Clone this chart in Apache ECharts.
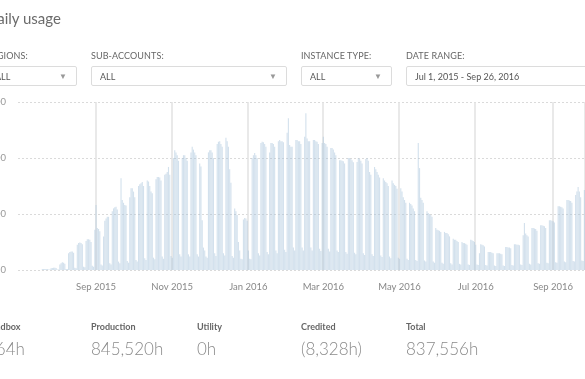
<!DOCTYPE html>
<html>
<head>
<meta charset="utf-8">
<script src="https://cdn.jsdelivr.net/npm/echarts@6/dist/echarts.min.js"></script>
<style>
  html, body { margin:0; padding:0; width:585px; height:379px; overflow:hidden; background:#fff; font-family: Lato, "Open Sans", sans-serif; }
  .abs { position:absolute; white-space:nowrap; }
  #chart { position:absolute; left:0; top:0; width:585px; height:379px; }
  .title { font-size:15px; color:#6b6b6b; top:9px; left:-14px; }
  .flabel { font-size:9px; color:#666; top:50px; letter-spacing:0.1px; }
  .box { position:absolute; top:66px; height:20px; border:1px solid #dcdcdc; border-radius:2px; box-sizing:border-box; background:#fff; }
  .box span.v { position:absolute; left:8px; top:4px; font-size:9px; color:#555; }
  .box span.a { position:absolute; right:9px; top:4px; font-size:8px; color:#999; }
  .slabel { font-size:9px; color:#666; top:321px; font-weight:bold; }
  .sval { font-size:17px; color:#8a8a8a; top:338px; font-weight:300; }
</style>
</head>
<body>
<div id="chart"></div>
<div class="abs title">Daily usage</div>

<div class="abs flabel" style="left:-14px">REGIONS:</div>
<div class="abs flabel" style="left:91px">SUB-ACCOUNTS:</div>
<div class="abs flabel" style="left:301px">INSTANCE TYPE:</div>
<div class="abs flabel" style="left:406px">DATE RANGE:</div>

<div class="box" style="left:-14px;width:91px"><span class="v">ALL</span><span class="a">▼</span></div>
<div class="box" style="left:91px;width:196px"><span class="v">ALL</span><span class="a">▼</span></div>
<div class="box" style="left:301px;width:91px"><span class="v">ALL</span><span class="a">▼</span></div>
<div class="box" style="left:406px;width:200px"><span class="v">Jul 1, 2015 - Sep 26, 2016</span></div>

<div class="abs slabel" style="left:-14px">Sandbox</div>
<div class="abs slabel" style="left:91px">Production</div>
<div class="abs slabel" style="left:197px">Utility</div>
<div class="abs slabel" style="left:301px">Credited</div>
<div class="abs slabel" style="left:406px">Total</div>
<div class="abs sval" style="left:-14px">364h</div>
<div class="abs sval" style="left:91px">845,520h</div>
<div class="abs sval" style="left:197px">0h</div>
<div class="abs sval" style="left:301px">(8,328h)</div>
<div class="abs sval" style="left:406px">837,556h</div>

<script>
// Daily usage (instance hours), Jul 1 2015 .. Dec 31 2015
const usage2015 = [
  0,0,0, 0,0,
  0,0,0,0,0, 0,0,
  0,0,0,0,0, 0,0,
  40,40,40,40,40, 20,20,
  60,70,80,80,70, 20,20,
  200,240,280,260,220, 40,40,
  600,640,660,660,620, 80,60,
  900,960,980,960,920, 120,100,
  1040,1100,1100,1080,1000, 150,120,
  1440,2320,1500,1460,1380, 200,160,
  1200,1760,1840,1900,1900, 240,200,
  2100,2200,2240,2260,2160, 300,240,
  3280,2500,2400,2320,2300, 320,260,
  2600,2920,2920,2800,2600, 360,300,
  3000,3060,3100,3140,3000, 420,360,
  3200,3160,3000,2800,2740, 440,380,
  3240,3320,3320,3300,3200, 480,400,
  3400,3440,3500,3680,3400, 500,440,
  4000,4280,4200,4100,3900, 560,480,
  4000,4100,4100,4000,3900, 560,480,
  4200,4400,4300,4200,4100, 560,480,
  3800,3700,1780,800,700, 480,440,
  4200,4280,4280,4200,4000, 600,500,
  4500,4580,4600,4500,4400, 600,520,
  4720,4600,4400,3600,3120, 500,440,
  2200,2100,1960,1000,700, 400,380,
  1800,1860,1840,1760
];
// Daily usage (instance hours), Jan 1 2016 .. Sep 26 2016
const usage2016 = [
  700, 400,380,
  4000,4100,4180,4100,4000, 600,520,
  4540,4580,4560,4500,4400, 640,560,
  4200,4540,4540,4500,4400, 700,600,
  4600,4640,4600,4600,4560, 720,640,
  4900,5420,4460,4400,4400, 800,700,
  4640,4640,4600,4600,4500, 800,700,
  4760,5600,4700,4600,4600, 800,700,
  4640,4640,4600,4580,4500, 760,680,
  4540,4760,4540,4500,4400, 760,660,
  4360,4360,4300,4200,4100, 700,640,
  3920,3920,3900,3880,3800, 640,580,
  4000,4000,3960,3920,3850, 620,560,
  3860,4000,3960,3900,3800, 600,540,
  3960,4000,3900,3500,3400, 560,500,
  3680,3600,3500,3400,3300, 520,460,
  3280,3200,3140,3100,3000, 480,420,
  3200,3100,3040,3000,2900, 440,400,
  2920,2800,2600,2500,2400, 400,360,
  2400,2360,2300,2200,2100, 360,320,
  4540,3640,2580,2500,2400, 340,300,
  2100,2040,2000,1960,1900, 300,260,
  1500,1440,1420,1400,1360, 260,220,
  1360,1320,1320,1280,1200, 240,200,
  1120,1080,1080,1040,1000, 220,200,
  1000,960,960,940,900, 200,180,
  1080,1060,1040,1000,900, 200,180,
  600,920,900,880,840, 180,160,
  640,640,640,620,600, 160,140,
  600,600,600,580,560, 160,140,
  820,820,800,800,780, 180,160,
  920,920,900,900,880, 200,180,
  1240,1680,1300,1240,1200, 220,200,
  1500,1500,1480,1460,1400, 240,220,
  1600,1600,1580,1560,1500, 260,240,
  1780,1780,1760,1740,1700, 280,260,
  2280,2280,2260,2240,2200, 300,280,
  2500,2500,2480,2460,2400, 320,300,
  2680,2800,2960,2800,2600, 340,320,
  2860
];
const startDate = '2015-07-01';
const tickDates  = ['2015-09-01','2015-11-01','2016-01-01','2016-03-01','2016-05-01','2016-07-01','2016-09-01'];
const tickLabels = ['Sep 2015','Nov 2015','Jan 2016','Mar 2016','May 2016','Jul 2016','Sep 2016'];
const yTicks = [0, 2000, 4000, 6000];

const values = usage2015.concat(usage2016);
const categories = [];
const t0 = Date.parse(startDate + 'T00:00:00Z');
for (let i = 0; i < values.length; i++) {
  categories.push(new Date(t0 + i * 86400000).toISOString().slice(0, 10));
}
const isTick = (idx, val) => tickDates.indexOf(val) >= 0;

const chart = echarts.init(document.getElementById('chart'), null, {renderer: 'canvas'});
chart.setOption({
  animation: false,
  grid: { left: 18, right: 0, top: 102, bottom: 109, containLabel: false, outerBoundsMode: 'none' },
  xAxis: {
    type: 'category',
    data: categories,
    boundaryGap: true,
    axisLine: { show: false },
    axisTick: { show: false },
    axisLabel: {
      interval: isTick,
      formatter: v => tickLabels[tickDates.indexOf(v)] || '',
      color: '#888', fontSize: 9.5, fontFamily: 'Lato', margin: 12
    },
    splitLine: { show: true, interval: isTick, lineStyle: { color: '#e2e2e2', width: 1.5 } }
  },
  yAxis: {
    type: 'value',
    min: yTicks[0], max: yTicks[yTicks.length - 1], interval: yTicks[1] - yTicks[0],
    axisLine: { show: false }, axisTick: { show: false },
    axisLabel: { color: '#999', fontSize: 9.5, fontFamily: 'Lato', margin: 12,
      formatter: v => v.toLocaleString('en-US') },
    splitLine: { lineStyle: { color: '#dadada', type: [2, 2], width: 1 } }
  },
  series: [{
    type: 'bar',
    data: values,
    barCategoryGap: '12%',
    itemStyle: { color: 'rgba(168,196,220,0.5)' }
  }]
});
</script>
</body>
</html>
